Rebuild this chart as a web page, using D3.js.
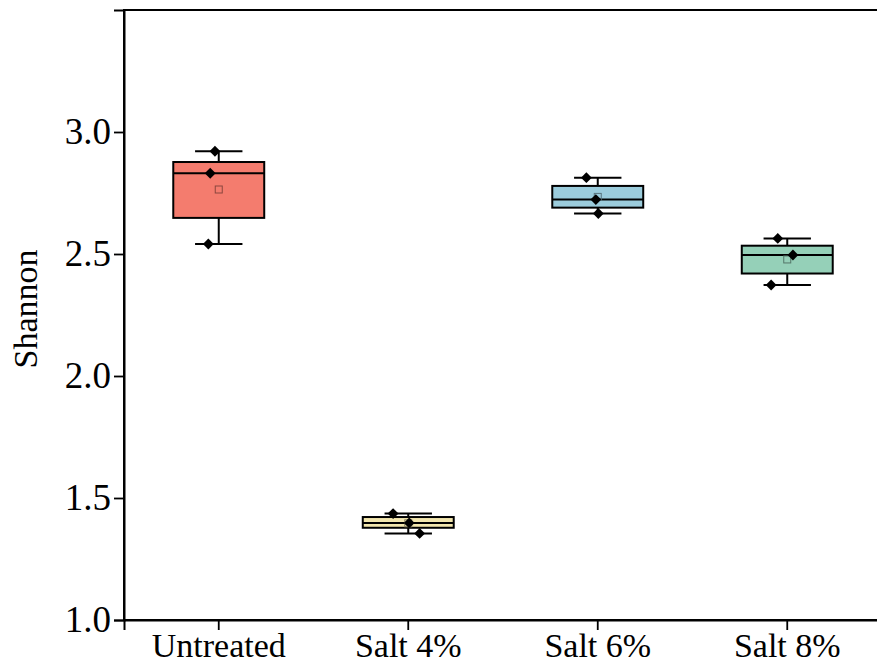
<!DOCTYPE html>
<html>
<head>
<meta charset="utf-8">
<script src="https://cdn.jsdelivr.net/npm/d3@7"></script>
<style>
  html, body { margin: 0; padding: 0; background: #fff; }
  svg { display: block; }
</style>
</head>
<body>
<svg id="chart" width="877" height="670"></svg>
<script>
// Shannon diversity per treatment: three replicates each
const categories = ["Untreated", "Salt 4%", "Salt 6%", "Salt 8%"];
const replicates = [
  [2.921, 2.831, 2.541],
  [1.436, 1.398, 1.355],
  [2.813, 2.723, 2.666],
  [2.564, 2.496, 2.373]
];
// box edges (lower and upper quartile)
const q1 = [2.648, 1.378, 2.690, 2.420];
const q3 = [2.877, 1.422, 2.779, 2.534];
// horizontal jitter of the replicate markers, in band widths
const jitter = [
  [-0.02, -0.045, -0.055],
  [-0.08, 0.005, 0.06],
  [-0.06, -0.01, 0.003],
  [-0.05, 0.03, -0.085]
];
const fills = ["#F47C6E", "#F2E6AE", "#9BCCDC", "#95D0B8"];
const yTicks = [1.0, 1.5, 2.0, 2.5, 3.0];

const svg = d3.select("#chart");
const mLeft = 124, mTop = 10, mBottom = 620, mRight = 882;
const serif = "Liberation Serif";

const x = d3.scaleBand().domain(categories).range([mLeft, mRight]).padding(0);
const y = d3.scaleLinear().domain([1.0, 3.5]).range([mBottom, mTop]);
const bw = x.bandwidth();
const boxW = bw * 0.48, capW = bw * 0.25;

// frame (right edge falls outside the canvas)
svg.append("rect")
  .attr("x", mLeft).attr("y", mTop)
  .attr("width", mRight - mLeft).attr("height", mBottom - mTop)
  .attr("fill", "none").attr("stroke", "#000").attr("stroke-width", 2);

// y axis
const yAxis = svg.append("g")
  .attr("transform", `translate(${mLeft},0)`)
  .call(d3.axisLeft(y).tickValues(yTicks).tickFormat(d3.format(".1f")).tickSize(10).tickPadding(3))
  .attr("font-family", serif).attr("font-size", 37);
yAxis.select(".domain").attr("stroke-width", 2);
yAxis.selectAll(".tick line").attr("stroke-width", 1.8);

// x axis
const xAxis = svg.append("g")
  .attr("transform", `translate(0,${mBottom})`)
  .call(d3.axisBottom(x).tickSize(10).tickPadding(3))
  .attr("font-family", serif).attr("font-size", 34);
xAxis.select(".domain").attr("stroke-width", 2);
xAxis.selectAll(".tick line").attr("stroke-width", 1.8);

// y axis title
svg.append("text")
  .attr("transform", `translate(37,${(mTop + mBottom) / 2 - 6}) rotate(-90)`)
  .attr("text-anchor", "middle")
  .attr("font-family", serif)
  .attr("font-size", 34)
  .text("Shannon");

// boxes
const groups = svg.append("g").selectAll("g")
  .data(categories.map((c, i) => {
    const v = replicates[i];
    return {
      c, i, v,
      lo: d3.min(v), hi: d3.max(v),
      med: d3.median(v), mean: d3.mean(v),
      q1: q1[i], q3: q3[i]
    };
  }))
  .join("g");

groups.each(function(d) {
  const g = d3.select(this);
  const cx = x(d.c) + bw / 2;
  // whiskers
  g.append("line").attr("x1", cx).attr("x2", cx)
    .attr("y1", y(d.hi)).attr("y2", y(d.q3))
    .attr("stroke", "#000").attr("stroke-width", 2);
  g.append("line").attr("x1", cx).attr("x2", cx)
    .attr("y1", y(d.q1)).attr("y2", y(d.lo))
    .attr("stroke", "#000").attr("stroke-width", 2);
  [d.hi, d.lo].forEach(v => {
    g.append("line").attr("x1", cx - capW / 2).attr("x2", cx + capW / 2)
      .attr("y1", y(v)).attr("y2", y(v))
      .attr("stroke", "#000").attr("stroke-width", 2);
  });
  // box
  g.append("rect")
    .attr("x", cx - boxW / 2).attr("width", boxW)
    .attr("y", y(d.q3)).attr("height", y(d.q1) - y(d.q3))
    .attr("fill", fills[d.i]).attr("stroke", "#000").attr("stroke-width", 2);
  // median
  g.append("line").attr("x1", cx - boxW / 2).attr("x2", cx + boxW / 2)
    .attr("y1", y(d.med)).attr("y2", y(d.med))
    .attr("stroke", "#000").attr("stroke-width", 2);
  // mean marker
  const s = 7;
  g.append("rect")
    .attr("x", cx - s / 2).attr("y", y(d.mean) - s / 2)
    .attr("width", s).attr("height", s)
    .attr("fill", "none")
    .attr("stroke", d3.color(fills[d.i]).darker(1.6))
    .attr("stroke-width", 1);
  // replicate points
  d.v.forEach((v, k) => {
    const px = cx + jitter[d.i][k] * bw;
    g.append("path")
      .attr("d", d3.symbol(d3.symbolDiamond2, 75)())
      .attr("transform", `translate(${px},${y(v)})`)
      .attr("fill", "#000");
  });
});
</script>
</body>
</html>
